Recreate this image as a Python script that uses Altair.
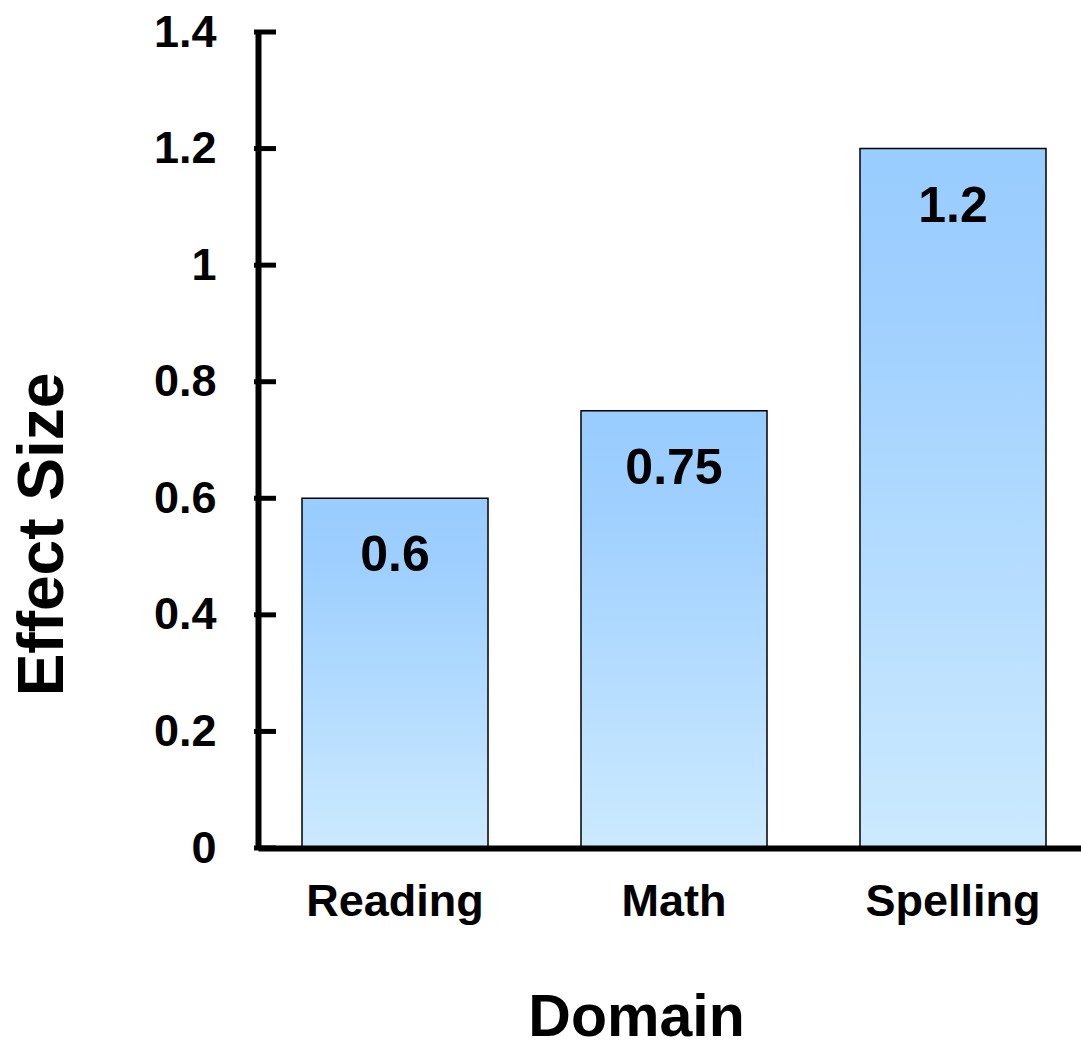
import altair as alt
import pandas as pd

domains = ["Reading", "Math", "Spelling"]
effect_sizes = [0.6, 0.75, 1.2]
tick_values = [0, 0.2, 0.4, 0.6, 0.8, 1.0, 1.2, 1.4]

df = pd.DataFrame({"Domain": domains, "Effect": effect_sizes})
ticks_df = pd.DataFrame({"Effect": tick_values})

FONT = "Liberation Sans, Arial, Helvetica, sans-serif"

x_scale = alt.Scale(paddingInner=0.3333, paddingOuter=0.1416, align=0.557)
y_scale = alt.Scale(domain=[0, 1.4], nice=False, zero=True)

gradient = alt.Gradient(
    gradient="linear",
    x1=0, y1=0, x2=0, y2=1,
    stops=[
        alt.GradientStop(color="#99CCFF", offset=0),
        alt.GradientStop(color="#9ECFFF", offset=0.2),
        alt.GradientStop(color="#CCEAFF", offset=1),
    ],
)

y_axis = alt.Axis(
    title="Effect Size", values=tick_values, format="~g",
    ticks=False, tickSize=0, grid=False,
    labelFont=FONT, labelFontWeight="bold", labelFontSize=45,
    labelColor="black", labelPadding=42,
    domainColor="black", domainWidth=6,
    titleFont=FONT, titleFontWeight="bold", titleFontSize=64,
    titleColor="black", titleAngle=-90, titleAlign="center",
    titleBaseline="alphabetic", titleX=-196, titleY=502, zindex=1,
)

bars = alt.Chart(df).mark_bar(
    color=gradient, stroke="black", strokeWidth=1.5
).encode(
    x=alt.X(
        "Domain:N", sort=domains, scale=x_scale,
        axis=alt.Axis(
            title="Domain", labelAngle=0, ticks=False, tickSize=0,
            labelFont=FONT, labelFontWeight="bold", labelFontSize=45,
            labelColor="black", labelBaseline="alphabetic", labelPadding=67,
            domainColor="black", domainWidth=6,
            titleFont=FONT, titleFontWeight="bold", titleFontSize=59,
            titleColor="black", titleAnchor="start", titleAlign="center",
            titleBaseline="alphabetic", titleX=378, titleY=187, zindex=1,
        ),
    ),
    y=alt.Y("Effect:Q", scale=y_scale, axis=y_axis),
)

labels = alt.Chart(df).mark_text(
    font=FONT, fontWeight="bold", fontSize=50, color="black",
    baseline="alphabetic", align="center", dy=73,
).encode(
    x=alt.X("Domain:N", sort=domains, scale=x_scale),
    y=alt.Y("Effect:Q", scale=y_scale, axis=y_axis),
    text=alt.Text("Effect:Q", format="~g"),
)

tick_marks = alt.Chart(ticks_df).mark_rule(
    color="black", strokeWidth=5
).encode(
    y=alt.Y("Effect:Q", scale=y_scale, axis=y_axis),
    x=alt.value(-4),
    x2=alt.value(18),
)

chart = alt.layer(bars, labels, tick_marks).properties(
    width=823,
    height=816,
    autosize=alt.AutoSizeParams(type="none"),
    padding={"left": 258, "top": 32, "right": 0, "bottom": 204},
    background="white",
).configure_view(stroke=None)

chart.save("out.html", embed_options={"renderer": "svg", "actions": False})
